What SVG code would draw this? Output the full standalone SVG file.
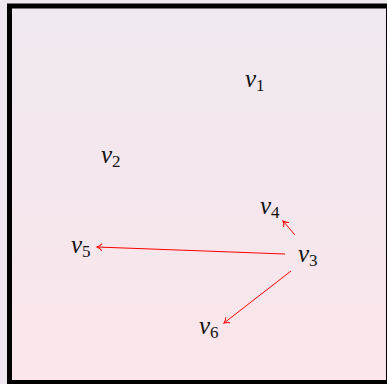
<svg xmlns="http://www.w3.org/2000/svg" width="387" height="384" viewBox="0 0 387 384">
<defs>
<linearGradient id="bg" x1="0" y1="0" x2="0" y2="1">
<stop offset="0" stop-color="#efe8f0"/>
<stop offset="1" stop-color="#fae6ea"/>
</linearGradient>
<marker id="ah" markerWidth="10" markerHeight="10" refX="8" refY="5" orient="auto" markerUnits="userSpaceOnUse">
<path d="M3,1.5 Q5,4 8,5 Q5,6 3,8.5" fill="none" stroke="#ff0000" stroke-width="1"/>
</marker>
</defs>
<rect x="0" y="0" width="387" height="384" fill="#f0e8f0"/>
<rect x="9.5" y="6" width="379" height="376.5" fill="url(#bg)" stroke="#000" stroke-width="5"/>
<g id="connectors" stroke="#ff0000" stroke-width="1" fill="none" marker-end="url(#ah)">
<line x1="295" y1="235" x2="283" y2="221"/>
<line x1="285" y1="254" x2="97" y2="247"/>
<line x1="291" y1="271" x2="224" y2="323"/>
</g>
<g id="v1"><text x="245" y="87" font-family="Times New Roman" font-size="25" font-style="italic" fill="#111">v<tspan font-style="normal" font-size="17" dy="4">1</tspan></text></g>
<g id="v2"><text x="101" y="163" font-family="Times New Roman" font-size="25" font-style="italic" fill="#111">v<tspan font-style="normal" font-size="17" dy="4">2</tspan></text></g>
<g id="v3"><text x="298" y="262" font-family="Times New Roman" font-size="25" font-style="italic" fill="#111">v<tspan font-style="normal" font-size="17" dy="4">3</tspan></text></g>
<g id="v4"><text x="260" y="214" font-family="Times New Roman" font-size="25" font-style="italic" fill="#111">v<tspan font-style="normal" font-size="17" dy="4">4</tspan></text></g>
<g id="v5"><text x="71" y="253" font-family="Times New Roman" font-size="25" font-style="italic" fill="#111">v<tspan font-style="normal" font-size="17" dy="4">5</tspan></text></g>
<g id="v6"><text x="199" y="334" font-family="Times New Roman" font-size="25" font-style="italic" fill="#111">v<tspan font-style="normal" font-size="17" dy="4">6</tspan></text></g>
</svg>
